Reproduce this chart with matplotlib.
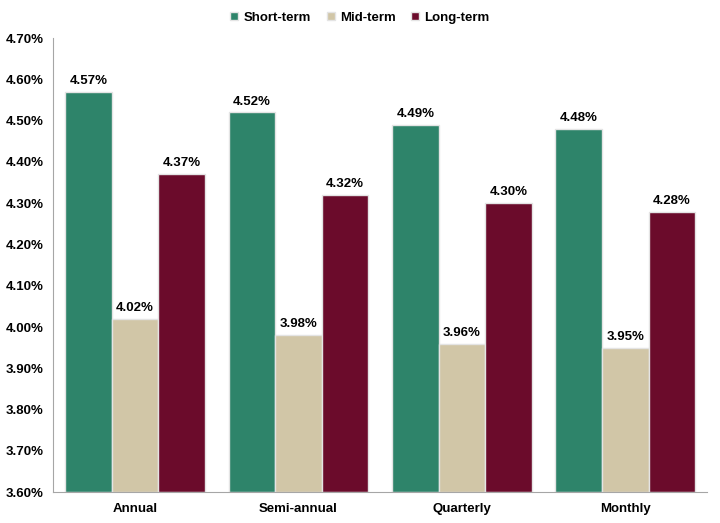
import matplotlib.pyplot as plt
import numpy as np

categories = ["Annual", "Semi-annual", "Quarterly", "Monthly"]
series_names = ["Short-term", "Mid-term", "Long-term"]
short_term = [4.57, 4.52, 4.49, 4.48]
mid_term = [4.02, 3.98, 3.96, 3.95]
long_term = [4.37, 4.32, 4.30, 4.28]
colors = ["#2E846A", "#D1C6A7", "#6B0B2B"]

plt.rcParams["font.family"] = ["Liberation Sans", "DejaVu Sans"]
plt.rcParams["font.weight"] = "bold"

fig = plt.figure(figsize=(7.2, 5.23), dpi=100)
ax = fig.add_axes([0.074, 0.059, 0.908, 0.868])

x = np.arange(len(categories))
width = 0.285
for i, (vals, name) in enumerate(zip([short_term, mid_term, long_term], series_names)):
    pos = x + (i - 1) * width
    ax.bar(pos, [v - 3.6 for v in vals], width, bottom=3.6, color=colors[i],
           edgecolor="#E4E4E4", linewidth=1.0, label=name)
    for p, v in zip(pos, vals):
        ax.text(p, v + 0.012, f"{v:.2f}%", ha="center", va="bottom",
                fontsize=9.5, fontweight="bold")

ax.set_xlim(-0.5, len(categories) - 0.5)
ax.set_ylim(3.6, 4.7)
ax.set_yticks(np.arange(3.6, 4.701, 0.1))
ax.set_yticklabels([f"{t:.2f}%" for t in np.arange(3.6, 4.701, 0.1)])
ax.set_xticks(x)
ax.set_xticklabels(categories)
ax.tick_params(length=0, labelsize=9.5)
ax.tick_params(axis="y", pad=7)
ax.tick_params(axis="x", pad=8)
for s in ["top", "right"]:
    ax.spines[s].set_visible(False)
ax.spines["left"].set_color("#A6A6A6")
ax.spines["bottom"].set_color("#A6A6A6")

handles, labels = ax.get_legend_handles_labels()
fig.legend(handles, labels, loc="upper center", bbox_to_anchor=(0.5, 1.0), ncol=3,
           frameon=False, handlelength=0.6, handleheight=0.6, handletextpad=0.4,
           columnspacing=1.2, fontsize=9.5)

fig.savefig("out.png", dpi=100)
